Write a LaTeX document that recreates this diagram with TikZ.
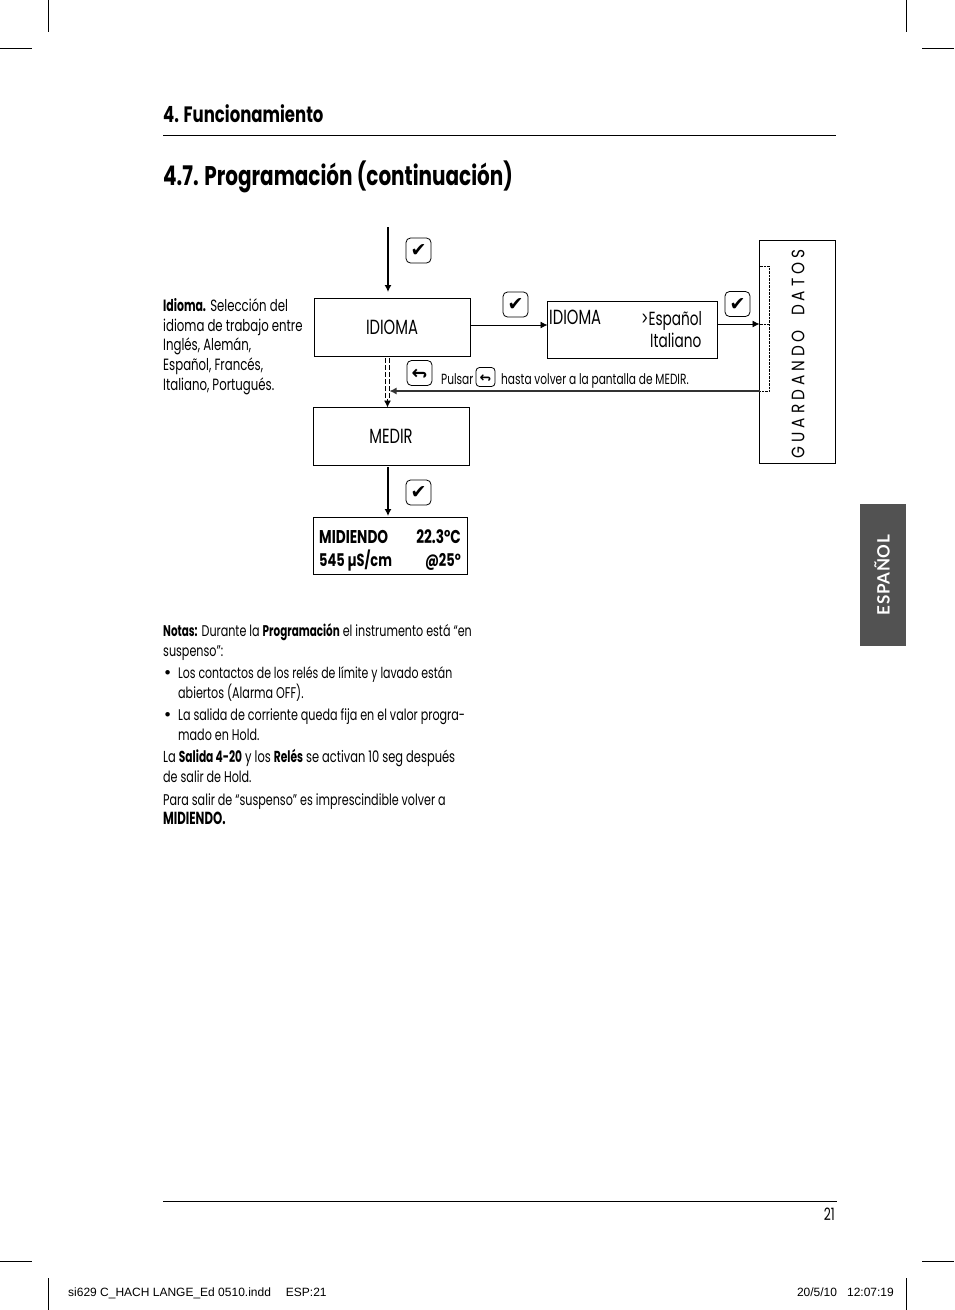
\documentclass[tikz,border=0pt]{standalone}
\usepackage{fontspec}
\usepackage{graphicx}
\usepackage{tikz}
\usetikzlibrary{arrows.meta}
\setmainfont[FakeStretch=0.72,BoldFeatures={FakeStretch=0.67}]{Poppins}
\newfontfamily\headfont[FakeStretch=0.74]{Poppins}
\newfontfamily\tabfont[LetterSpace=4]{Lato}
\newfontfamily\footfont{Liberation Sans}
\newfontfamily\symbfont{DejaVu Sans}
\newfontfamily\wideletters[LetterSpace=22,FakeStretch=0.85]{Poppins}
\newcommand{\okmark}{{\symbfont\char"2714}}
\newcommand{\backmark}{\scalebox{1}[-1]{\symbfont\bfseries\char"21A9}}
\tikzset{screen/.style = {draw,line width=0.8pt,inner sep=0pt,outer sep=0pt,anchor=north west},
  key/.style = {draw,line width=0.8pt,rounded corners=4.5pt,inner sep=0pt,
    minimum width=25pt,minimum height=25pt,font=\fontsize{19}{19}\selectfont},
  smallkey/.style = {key,minimum width=19pt,minimum height=19pt,rounded corners=3.5pt,font=\fontsize{14}{14}\selectfont},
  txt/.style = {anchor=base west,inner sep=0pt,font=\fontsize{15.5}{15.5}\selectfont},
  boxtxt/.style = {txt,font=\fontsize{19}{19}\selectfont},
  boxcaps/.style = {txt,font=\fontsize{20.5}{20.5}\selectfont},
  lcd/.style = {txt,font=\fontsize{18.5}{18.5}\selectfont\headfont\bfseries},
  hint/.style = {txt,font=\fontsize{14.7}{14.7}\selectfont},
  side/.style = {txt,font=\fontsize{16.3}{16.3}\selectfont},
  trim/.style = {line width=0.6pt},
  flow/.style = {line width=1.3pt,-{Latex[length=7pt,width=7pt]}},
  thin flow/.style = {line width=0.9pt,-{Latex[length=7pt,width=7pt]}}}
\begin{document}
\begin{tikzpicture}[x=1pt,y=-1pt]
  \useasboundingbox (0,0) rectangle (954,1310);
  % trim marks
  \foreach \x in {48,906} {
    \draw[trim] (\x,0) -- (\x,32);
    \draw[trim] (\x,1278) -- (\x,1310);
  }
  \foreach \y in {48,1261} {
    \draw[trim] (0,\y) -- (32,\y);
    \draw[trim] (922,\y) -- (954,\y);
  }
  % headings
  \node[txt,font=\fontsize{22.3}{22.3}\selectfont\headfont\bfseries] (section) at (163,122) {4. Funcionamiento};
  \draw[line width=0.8pt] (163,135.5) -- (836,135.5);
  \node[txt,font=\fontsize{27}{27}\selectfont\headfont\bfseries] (title) at (163,185) {4.7. Programación (continuación)};
  \draw[line width=0.8pt] (163,1201.5) -- (837,1201.5);
  \node[txt,anchor=base east,font=\fontsize{17}{17}\selectfont] (page) at (835,1220) {21};
  % side tab
  \fill[black!68] (860,504) rectangle (906,646);
  \node[rotate=90,text=white,font=\fontsize{17}{17}\selectfont\tabfont\bfseries] (tab) at (882,575) {ESPAÑOL};
  % boxes
  \node[screen,minimum width=156pt,minimum height=58pt] (idioma) at (314.5,298.5) {};
  \node[boxcaps,anchor=center] (idiomatxt) at (392,327) {IDIOMA};
  \node[screen,minimum width=170pt,minimum height=57pt] (options) at (547.5,301.5) {};
  \node[boxcaps] (optname) at (549,324.5) {IDIOMA};
  \node[boxtxt] (optesp) at (641,325) {>Español};
  \node[boxtxt] (optita) at (650,347) {Italiano};
  \node[screen,minimum width=156pt,minimum height=58pt] (medir) at (313.5,407.5) {};
  \node[boxcaps,anchor=center] (medirtxt) at (391,436) {MEDIR};
  \node[screen,minimum width=154pt,minimum height=57pt] (midiendo) at (313.5,517.5) {};
  \node[lcd] (midname) at (319,543) {MIDIENDO};
  \node[lcd,anchor=base east] (midtemp) at (461,543) {22.3°C};
  \node[lcd,font=\fontsize{17.5}{17.5}\selectfont\headfont\bfseries] (midcond) at (319,566) {545 µS/cm};
  \node[lcd,font=\fontsize{17.5}{17.5}\selectfont\headfont\bfseries,anchor=base east] (midref) at (461,566) {@25°};
  \node[screen,minimum width=76pt,minimum height=223pt] (guardando) at (759.5,240.5) {};
  \node[rotate=90,font=\fontsize{18}{18}\selectfont\wideletters] (guardtxt) at (798,354) {GUARDANDO\hspace{6pt} DATOS};
  % dotted frame beside the saving box
  \coordinate (dot a) at (guardando.west |- 0,266);
  \coordinate (dot b) at (769,266);
  \coordinate (dot c) at (769,391);
  \coordinate (dot d) at (guardando.west |- 0,391);
  \coordinate (dot e) at (guardando.west |- 0,324);
  \coordinate (dot f) at (769,324);
  \draw[densely dotted,line width=0.4pt] (dot a) -- (dot b) -- (dot c) -- (dot d) (dot e) -- (dot f);
  % connectors
  \coordinate (entry) at (388,227);
  \coordinate (entry end) at (388,292);
  \coordinate (back end) at (389.5,391);
  \coordinate (dash a) at (387.5,358);
  \coordinate (dash b) at (387.5,400);
  \draw[flow] (entry) -- (entry end);
  \draw[thin flow] (idioma.east |- 0,325) -- (options.west |- 0,325);
  \draw[thin flow] (options.east |- 0,324) -- (guardando.west |- 0,324);
  \draw[flow,black!80] (dot d) -- (back end);
  \draw[line width=1pt,dash pattern=on 5pt off 2pt] ([xshift=-1.8pt]dash a) -- ([xshift=-1.8pt]dash b);
  \draw[line width=1pt,dash pattern=on 5pt off 2pt] ([xshift=1.8pt]dash a) -- ([xshift=1.8pt]dash b);
  \draw[-{Latex[length=7pt,width=7pt]},line width=1pt] (dash b) ++(0,-1) -- (medir.north -| dash b);
  \draw[flow] (388,467) -- (388,516);
  % keys
  \node[key] (ok a) at (418.5,250.5) {\okmark};
  \node[key] (ok b) at (515.5,304.5) {\okmark};
  \node[key] (ok c) at (737.5,304) {\okmark};
  \node[key] (ok d) at (418.5,492.5) {\okmark};
  \node[key] (esc a) at (419.5,373) {\backmark};
  \node[hint] (pulsar) at (441,384) {Pulsar};
  \node[smallkey] (esc b) at (485.5,377) {\backmark};
  \node[hint] (hasta) at (501,384) {hasta volver a la pantalla de MEDIR.};
  % side text
  \node[side] (n1) at (163,311) {\textbf{Idioma.} Selección del};
  \node[side] (n2) at (163,331) {idioma de trabajo entre};
  \node[side] (n3) at (163,350) {Inglés, Alemán,};
  \node[side] (n4) at (163,370) {Español, Francés,};
  \node[side] (n5) at (163,390) {Italiano, Portugués.};
  % notes
  \node[txt] (m1) at (163,636) {\textbf{Notas:} Durante la \textbf{Programación} el instrumento está “en};
  \node[txt] (m2) at (163,656) {suspenso”:};
  \node[txt,font=\fontsize{15.5}{15.5}\selectfont\symbfont] (m3) at (163,678) {•};
  \node[txt,font=\fontsize{15.2}{15.2}\selectfont] (m4) at (178,678) {Los contactos de los relés de límite y lavado están};
  \node[txt] (m5) at (178,698) {abiertos (Alarma OFF).};
  \node[txt,font=\fontsize{15.5}{15.5}\selectfont\symbfont] (m6) at (163,720) {•};
  \node[txt] (m7) at (178,720) {La salida de corriente queda fija en el valor progra-};
  \node[txt] (m8) at (178,740) {mado en Hold.};
  \node[txt,font=\fontsize{15.9}{15.9}\selectfont] (m9) at (163,762) {La \textbf{Salida 4-20} y los \textbf{Relés} se activan 10 seg después};
  \node[txt] (m10) at (163,782) {de salir de Hold.};
  \node[txt] (m11) at (163,805) {Para salir de “suspenso” es imprescindible volver a};
  \node[txt,font=\fontsize{17.5}{17.5}\selectfont] (m12) at (163,824) {\textbf{MIDIENDO.}};
  % slug line
  \node[txt,font=\fontsize{12}{12}\selectfont\footfont] (slug) at (68,1296) {si629 C\_HACH LANGE\_Ed 0510.indd\hspace{15pt}ESP:21};
  \node[txt,anchor=base east,font=\fontsize{12}{12}\selectfont\footfont] (stamp) at (894,1296) {20/5/10\hspace{10pt}12:07:19};
\end{tikzpicture}
\end{document}
